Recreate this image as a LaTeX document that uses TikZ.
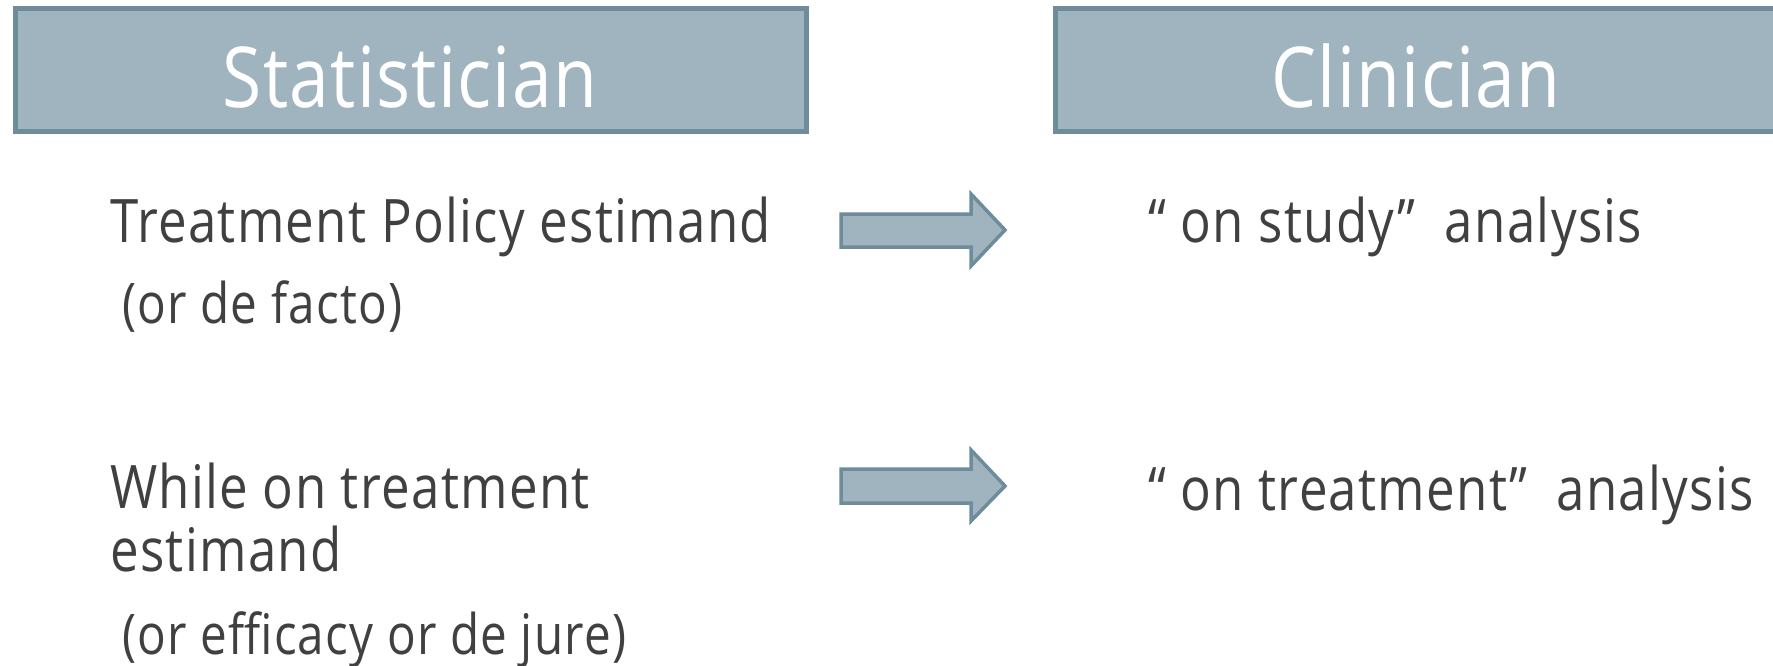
\documentclass[tikz,border=0pt]{standalone}
\usepackage{fontspec}
\setmainfont{Open Sans}
\newfontfamily\bodyfont[FakeStretch=0.85,LetterSpace=2.2]{Open Sans}
\newfontfamily\headfont[FakeStretch=0.85,LetterSpace=1.5]{Open Sans}
\definecolor{boxfill}{HTML}{A0B4BF}
\definecolor{boxline}{HTML}{6E8C99}
\definecolor{txt}{HTML}{404040}
\begin{document}
\begin{tikzpicture}[x=1pt,y=-1pt,
  headbox/.style={draw=boxline,fill=boxfill,line width=5pt},
  headtxt/.style={anchor=base,inner sep=0pt,text=white,font=\headfont\fontsize{84}{90}\selectfont},
  bodytxt/.style={anchor=base west,inner sep=0pt,text=txt,font=\bodyfont\fontsize{60}{66}\selectfont},
  subtxt/.style={anchor=base west,inner sep=0pt,text=txt,font=\bodyfont\fontsize{56}{60}\selectfont},
  blockarrow/.style={draw=boxline,fill=boxfill,line width=3.5pt,line join=miter}]
\useasboundingbox (0,0) rectangle (1773,665);
\draw[headbox] (15,8) rectangle (806,131);
\draw[headbox] (1055,8) rectangle (1790,131);
\node[headtxt] (stat) at (410,107) {Statistician};
\node[headtxt] (clin) at (1416,107) {Clinician};
\node[bodytxt] (tp) at (110,242) {Treatment Policy estimand};
\node[subtxt] (tpsub) at (122,323) {(or de facto)};
\node[bodytxt] (wot) at (110,508) {While on treatment};
\node[bodytxt] (wot2) at (110,571) {estimand};
\node[subtxt] (wotsub) at (122,654) {(or efficacy or de jure)};
\node[bodytxt] (onstudy) at (1148,242) {“ on study”\ \ analysis};
\node[bodytxt] (ontreat) at (1148,510) {“ on treatment”\ \ analysis};
\draw[blockarrow] (841,214) -- (971,214) -- (971,194) -- (1005,230) -- (971,266) -- (971,247) -- (841,247) -- cycle;
\draw[blockarrow] (841,469) -- (971,469) -- (971,450) -- (1005,486) -- (971,521) -- (971,503) -- (841,503) -- cycle;
\end{tikzpicture}
\end{document}
